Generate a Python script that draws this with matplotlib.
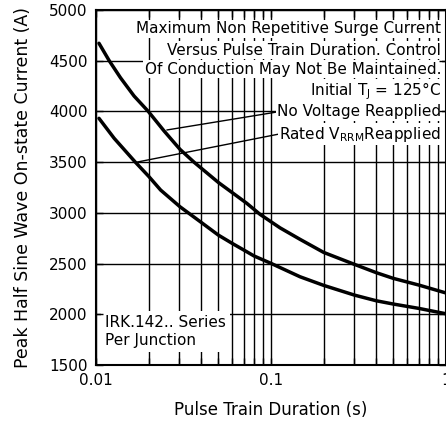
import numpy as np
import matplotlib.pyplot as plt
from matplotlib.ticker import FixedLocator, LogLocator, NullFormatter

# curves: pulse train duration (s) vs peak current (A)
no_volt_t = [0.0104, 0.0119, 0.0138, 0.0165, 0.0199, 0.0245, 0.0302, 0.0363, 0.05,
             0.0726, 0.0866, 0.1127, 0.1465, 0.2, 0.3, 0.4, 0.5, 0.7, 1.0]
no_volt_i = [4672, 4500, 4332, 4152, 4000, 3807, 3626, 3500, 3300,
             3095, 2985, 2852, 2739, 2610, 2492, 2410, 2354, 2288, 2210]

rated_t = [0.0104, 0.0127, 0.0167, 0.0201, 0.0234, 0.0302, 0.04, 0.05, 0.06, 0.07,
           0.08, 0.1, 0.1465, 0.2, 0.3, 0.4, 0.5, 0.7, 1.0]
rated_i = [3932, 3735, 3504, 3356, 3225, 3060, 2905, 2781, 2699, 2633,
           2575, 2502, 2370, 2285, 2189, 2133, 2101, 2058, 2005]

# points where the label leaders touch the curves
lead_nv = (0.0254, 3817)
lead_rr = (0.0171, 3500)

y_ticks = [1500, 2000, 2500, 3000, 3500, 4000, 4500, 5000]
x_ticks = [0.01, 0.1, 1]
x_ticklabels = ["0.01", "0.1", "1"]

note_lines = ["Maximum Non Repetitive Surge Current",
              "Versus Pulse Train Duration. Control",
              "Of Conduction May Not Be Maintained.",
              r"Initial T$_\mathregular{J}$ = 125°C"]
nv_label = "No Voltage Reapplied"
rr_label = r"Rated V$_\mathregular{RRM}$Reapplied"
series_note = "IRK.142.. Series\nPer Junction"

fig = plt.figure(figsize=(4.46, 4.30), dpi=100)
ax = fig.add_axes([96/446, 65/430, 350/446, 355/430])
ax.set_xscale("log")
ax.set_xlim(0.01, 1)
ax.set_ylim(1500, 5000)

ax.xaxis.set_major_locator(FixedLocator(x_ticks))
ax.set_xticklabels(x_ticklabels)
ax.xaxis.set_minor_locator(LogLocator(base=10, subs=np.arange(2, 10)))
ax.xaxis.set_minor_formatter(NullFormatter())
ax.set_yticks(y_ticks)

# grid drawn by hand so the ticks can sit on top of the white text boxes
xgrid = list(ax.xaxis.get_majorticklocs()) + list(ax.xaxis.get_minorticklocs())
ax.vlines(xgrid, 1500, 5000, colors="black", lw=1, zorder=1)
ax.hlines(y_ticks, 0.01, 1, colors="black", lw=1, zorder=1)

ax.set_axisbelow(False)
ax.tick_params(which="both", direction="in", top=True, right=True,
               length=5, width=1, labelsize=11, pad=6)
for s in ax.spines.values():
    s.set_linewidth(1.5)

ax.plot(no_volt_t, no_volt_i, color="black", lw=2.5, zorder=3,
        solid_joinstyle="round", solid_capstyle="round")
ax.plot(rated_t, rated_i, color="black", lw=2.5, zorder=3,
        solid_joinstyle="round", solid_capstyle="round")

box = dict(facecolor="white", edgecolor="none", pad=1)
ys = [0.9465, 0.8873, 0.8338, 0.7718, 0.7127, 0.6507]
for line, y in zip(note_lines, ys):
    ax.text(0.986, y, line, transform=ax.transAxes, ha="right", va="center",
            fontsize=11, bbox=box, zorder=2)

leader = dict(arrowstyle="-", lw=1, color="black", relpos=(0, 0.5),
              shrinkA=0, shrinkB=0)
ax.annotate(nv_label, xy=lead_nv, xytext=(0.986, ys[4]),
            textcoords="axes fraction", ha="right", va="center",
            fontsize=11, bbox=box, arrowprops=leader, zorder=2)
ax.annotate(rr_label, xy=lead_rr, xytext=(0.986, ys[5]),
            textcoords="axes fraction", ha="right", va="center",
            fontsize=11, bbox=box, arrowprops=leader, zorder=2)

ax.text(0.027, 0.094, series_note, transform=ax.transAxes, ha="left",
        va="center", fontsize=11, linespacing=1.25,
        bbox=dict(facecolor="white", edgecolor="none", pad=3), zorder=2)

ax.set_xlabel("Pulse Train Duration (s)", fontsize=12, labelpad=9)
ax.set_ylabel("Peak Half Sine Wave On-state Current (A)", fontsize=12.5, labelpad=12)

fig.savefig("out.png", dpi=100)
